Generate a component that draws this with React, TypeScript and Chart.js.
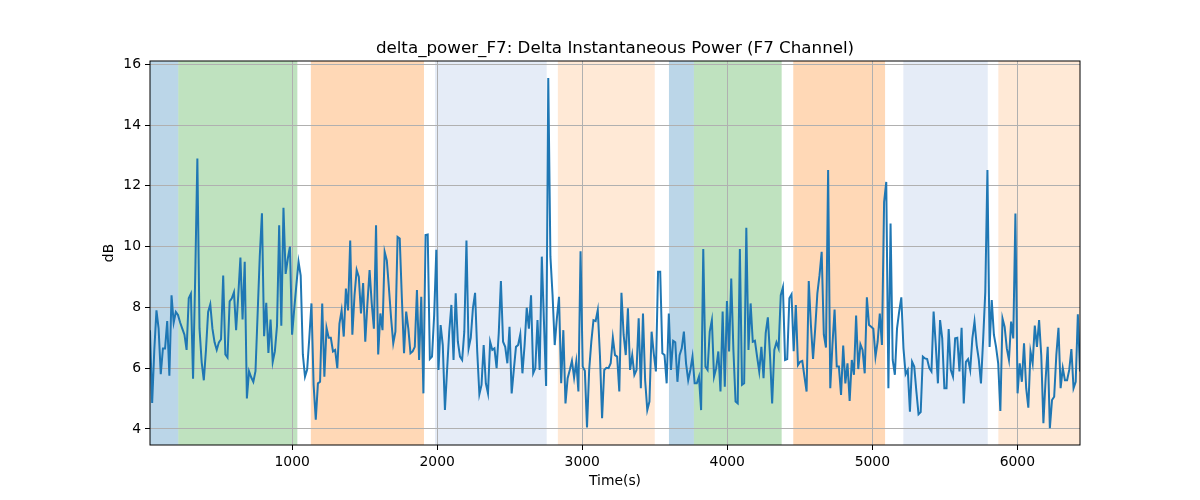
import { useEffect, useRef } from "react";
import { Chart, registerables, type Plugin } from "chart.js";

Chart.register(...registerables);

// time axis (seconds), samples are evenly spaced between these
const T_START = 20;
const T_END = 6432;

// delta power readings (dB), left to right
const DB_PART_1 = [
  7.25, 4.85, 6.6, 7.9, 7.3, 5.8, 6.65, 6.65, 7.55, 5.75, 8.4, 7.5, 7.85, 7.75, 7.5, 7.3, 7.1, 6.6, 8.3, 8.45, 5.65,
  9.0, 12.9, 7.3, 6.2, 5.6, 6.6, 7.85, 8.1, 7.3, 6.85, 6.6, 6.85, 6.95, 9.05, 6.45, 6.35, 8.2, 8.3, 8.5, 7.25, 8.4,
  9.64, 7.6, 9.5, 5.0, 5.9, 5.7, 5.55, 5.9, 7.8, 9.7, 11.1, 7.05, 8.15, 6.5, 7.6,
];
const DB_PART_2 = [
  6.2, 6.55, 7.4, 10.7, 7.4, 11.28, 9.1, 9.6, 10.0, 7.1, 7.95, 8.75, 9.5, 9.05, 6.45, 5.72, 5.95, 7.0, 8.13, 5.45,
  4.3, 5.5, 5.55, 8.13, 5.72, 7.33, 7.0, 7.0, 6.55, 6.6, 6.0, 7.47, 7.9, 7.04, 8.62, 7.9, 10.2, 7.1, 8.4, 9.23,
  9.0, 7.8, 8.8, 6.87, 8.13, 9.23, 8.13, 7.3, 10.7, 6.45, 7.8, 7.25, 9.83, 9.55, 8.62,
];
const DB_PART_3 = [
  7.64, 6.82, 7.2, 10.32, 10.27, 8.3, 6.49, 7.86, 7.3, 6.49, 6.55, 6.7, 8.57, 6.27, 8.35, 5.17, 10.38, 10.4, 6.3,
  6.38, 7.75, 9.9, 5.94, 7.42, 6.76, 4.62, 5.94, 7.2, 8.08, 6.27, 8.46, 6.87, 6.38, 6.27, 7.2, 10.2, 6.65, 7.0,
  7.97, 8.48, 6.55, 5.14, 5.45, 6.76, 5.5, 5.17, 6.87, 6.6, 6.65, 6.0, 7.15, 8.87, 6.87, 6.7, 6.16, 7.36, 5.17,
];
const DB_PART_4 = [
  5.94, 6.7, 6.76, 7.11, 5.83, 6.76, 7.99, 7.3, 8.4, 5.83, 6.0, 7.58, 5.94, 9.67, 7.53, 5.41, 15.55, 9.67, 8.4,
  6.76, 7.64, 8.35, 5.5, 7.25, 4.84, 5.67, 5.94, 6.24, 5.69, 6.21, 5.23, 9.85, 6.05, 5.91, 4.05, 5.94, 6.87, 7.58,
  7.55, 7.91, 6.43, 4.35, 5.94, 6.01, 6.0, 6.16, 7.0, 6.43, 6.38, 5.23, 8.48, 7.1, 6.43, 7.97, 5.94,
];
const DB_PART_5 = [
  6.43, 5.78, 5.94, 7.64, 5.34, 7.8, 5.6, 4.62, 4.9, 7.2, 6.49, 5.89, 9.17, 9.17, 6.49, 6.43, 5.5, 7.8, 5.94, 6.9,
  6.85, 5.55, 6.43, 6.65, 7.2, 6.16, 5.6, 5.94, 6.38, 5.5, 5.5, 5.72, 4.62, 9.92, 6.05, 5.94, 7.2, 7.58, 5.72, 6.0,
  6.55, 5.23, 7.86, 5.39, 8.21, 6.55, 8.95, 6.6, 4.9, 4.84, 9.92, 5.45, 5.5, 10.62, 6.6, 8.13,
];
const DB_PART_6 = [
  6.87, 6.9, 6.38, 5.89, 6.7, 5.67, 7.15, 7.67, 6.43, 4.84, 6.6, 6.85, 6.65, 8.4, 8.66, 6.27, 6.3, 8.3, 8.43, 6.56,
  8.08, 6.1, 6.21, 6.24, 5.72, 5.23, 8.87, 7.42, 6.3, 7.3, 8.46, 9.06, 9.83, 7.1, 6.68, 12.52, 5.34, 6.76, 7.93,
  6.05, 6.05, 5.12, 6.74, 5.5, 6.16, 4.92, 6.27, 5.78, 7.73, 5.97, 6.78, 6.6, 5.83, 8.33, 7.42,
];
const DB_PART_7 = [
  7.36, 7.3, 6.38, 6.87, 7.8, 6.76, 11.47, 12.13, 5.34, 10.76, 6.27, 5.78, 7.3, 7.86, 8.33, 6.65, 5.8, 5.94, 4.57,
  6.21, 6.05, 5.23, 4.48, 4.55, 6.38, 6.32, 6.3, 6.0, 5.89, 7.86, 6.76, 5.5, 7.58, 6.98, 5.34, 5.34, 7.29, 5.94,
  5.72, 6.98, 7.0, 5.89, 7.33, 4.84, 6.21, 6.3, 5.94, 6.98, 7.53, 6.76, 6.27,
];
const DB_PART_8 = [
  5.5, 6.93, 8.51, 12.52, 6.7, 8.24, 7.1, 6.7, 6.16, 4.59, 7.64, 7.36, 6.65, 6.27, 7.53, 6.98, 11.09, 5.17, 6.16,
  5.55, 6.82, 5.34, 4.7, 6.55, 6.16, 7.4, 6.7, 7.58, 6.43, 4.19, 5.6, 6.7, 4.02, 4.95, 5.06, 6.43, 7.33, 5.34, 6.0,
  5.6, 5.6, 5.94, 6.63, 5.34, 5.55, 7.77, 5.89,
];

const DB_VALUES = [
  ...DB_PART_1, ...DB_PART_2, ...DB_PART_3, ...DB_PART_4,
  ...DB_PART_5, ...DB_PART_6, ...DB_PART_7, ...DB_PART_8,
];

// shaded stages (seconds)
const SPAN_FROM = [20, 215, 1129, 1985, 2832, 3598, 3770, 4455, 5214, 5869];
const SPAN_TO = [215, 1036, 1909, 2755, 3500, 3770, 4375, 5088, 5796, 6432];
const SPAN_KIND = ["blue", "green", "orange", "paleBlue", "paleOrange", "blue", "green", "orange", "paleBlue", "paleOrange"];

const X_TICKS = [1000, 2000, 3000, 4000, 5000, 6000];
const Y_TICKS = [4, 6, 8, 10, 12, 14, 16];

const TITLE = "delta_power_F7: Delta Instantaneous Power (F7 Channel)";

const SPAN_COLORS: Record<string, string> = {
  blue: "rgba(31,119,180,0.3)",
  green: "rgba(44,160,44,0.3)",
  orange: "rgba(255,127,14,0.3)",
  paleBlue: "rgba(40,100,190,0.12)",
  paleOrange: "rgba(255,127,14,0.17)",
};

const FONT = "'DejaVu Sans', sans-serif";

const spansPlugin: Plugin<"line"> = {
  id: "spans",
  beforeDraw(chart) {
    const { ctx, chartArea } = chart;
    const x = chart.scales.x;
    ctx.save();
    SPAN_FROM.forEach((from, i) => {
      const x1 = Math.max(chartArea.left, x.getPixelForValue(from));
      const x2 = Math.min(chartArea.right, x.getPixelForValue(SPAN_TO[i]));
      ctx.fillStyle = SPAN_COLORS[SPAN_KIND[i]];
      ctx.fillRect(x1, chartArea.top, x2 - x1, chartArea.bottom - chartArea.top);
    });
    ctx.restore();
  },
  afterDraw(chart) {
    const { ctx, chartArea } = chart;
    ctx.save();
    // frame on all four sides
    ctx.strokeStyle = "#000";
    ctx.lineWidth = 1;
    ctx.strokeRect(chartArea.left, chartArea.top, chartArea.right - chartArea.left, chartArea.bottom - chartArea.top);
    // title centred over the plot area
    ctx.fillStyle = "#000";
    ctx.font = `16.7px ${FONT}`;
    ctx.textAlign = "center";
    ctx.textBaseline = "alphabetic";
    ctx.fillText(TITLE, (chartArea.left + chartArea.right) / 2, chartArea.top - 8);
    ctx.restore();
  },
};

export default function App() {
  const canvasRef = useRef<HTMLCanvasElement>(null);
  const chartRef = useRef<Chart | null>(null);

  useEffect(() => {
    if (!canvasRef.current) return;
    chartRef.current?.destroy();

    const step = (T_END - T_START) / (DB_VALUES.length - 1);
    const points = DB_VALUES.map((v, i) => ({ x: T_START + i * step, y: v }));

    chartRef.current = new Chart(canvasRef.current, {
      type: "line",
      data: {
        datasets: [
          {
            data: points,
            borderColor: "#1f77b4",
            borderWidth: 2,
            pointRadius: 0,
            tension: 0,
          },
        ],
      },
      options: {
        animation: false,
        responsive: true,
        maintainAspectRatio: false,
        layout: { padding: { top: 61, right: 120, bottom: 0, left: 0 } },
        plugins: {
          legend: { display: false },
          tooltip: { enabled: false },
          title: { display: false },
        },
        scales: {
          x: {
            type: "linear",
            min: T_START,
            max: T_END,
            afterFit: (s) => {
              s.height = 55;
            },
            afterBuildTicks: (s) => {
              s.ticks = X_TICKS.map((value) => ({ value }));
            },
            ticks: {
              color: "#000",
              font: { family: FONT, size: 13.9 },
              padding: 4,
              maxRotation: 0,
              callback: (v) => String(v),
            },
            grid: {
              color: "#b0b0b0",
              lineWidth: 1,
              tickColor: "#000",
              tickLength: 5,
              tickWidth: 1,
            },
            border: { display: false },
            title: {
              display: true,
              text: "Time(s)",
              color: "#000",
              font: { family: FONT, size: 13.9 },
              padding: { top: 0, bottom: 10 },
            },
          },
          y: {
            type: "linear",
            min: 3.47,
            max: 16.11,
            afterFit: (s) => {
              s.width = 150;
            },
            afterBuildTicks: (s) => {
              s.ticks = Y_TICKS.map((value) => ({ value }));
            },
            ticks: {
              color: "#000",
              font: { family: FONT, size: 13.9 },
              padding: 4,
              callback: (v) => String(v),
            },
            grid: {
              color: "#b0b0b0",
              lineWidth: 1,
              tickColor: "#000",
              tickLength: 5,
              tickWidth: 1,
            },
            border: { display: false },
            title: {
              display: true,
              text: "dB",
              color: "#000",
              font: { family: FONT, size: 13.9 },
              padding: { top: 101, bottom: 0 },
            },
          },
        },
      },
      plugins: [spansPlugin],
    });

    return () => {
      chartRef.current?.destroy();
      chartRef.current = null;
    };
  }, []);

  return (
    <div style={{ position: "absolute", left: 0, top: 0, width: 1200, height: 500, background: "#fff" }}>
      <canvas ref={canvasRef} />
    </div>
  );
}
